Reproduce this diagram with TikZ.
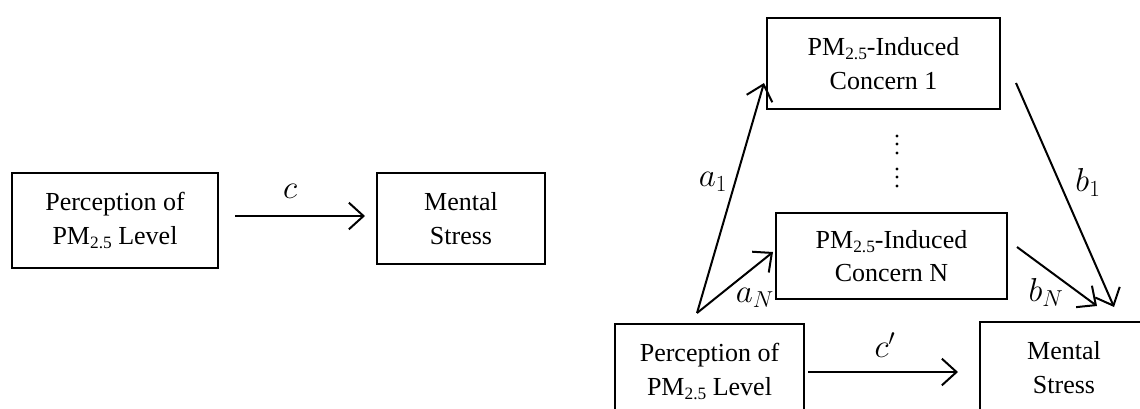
\documentclass[tikz,border=0pt]{standalone}
\usepackage{fontspec}
\setmainfont{Liberation Serif}
\usetikzlibrary{arrows.meta}
\newcommand{\pmsub}[1]{\raisebox{-0.35ex}{\fontsize{13}{13}\selectfont #1}}
\tikzset{
  box/.style={draw, line width=1.5pt, align=center, inner sep=0pt,
    font=\fontsize{19.5}{25}\selectfont},
  arr/.style={line width=1.5pt, -{Straight Barb[length=11pt,width=20pt]}},
  lbl/.style={font=\fontsize{23}{23}\selectfont, inner sep=0pt}
}
\begin{document}
\begin{tikzpicture}[x=0.75pt,y=-0.75pt]
\useasboundingbox (0,0) rectangle (1140,408);
\clip (0,0) rectangle (1140,408);
% left diagram
\node[box, minimum width=154.5pt, minimum height=71.25pt] (lp) at (115,220.5) {Perception of\\PM\pmsub{2.5} Level};
\node[box, minimum width=126pt, minimum height=68.25pt] (ls) at (461,218.5) {Mental\\Stress};
\coordinate (cA) at (235,216);
\coordinate (cB) at (365,216);
\draw[arr] (cA) -- (cB);
\node[lbl] (lc) at (290,191) {$c$};
% right diagram
\node[box, minimum width=174.75pt, minimum height=68.25pt] (c1) at (883.5,63.5) {PM\pmsub{2.5}-Induced\\Concern 1};
\node[box, minimum width=173.25pt, minimum height=64.5pt] (cN) at (891.5,256) {PM\pmsub{2.5}-Induced\\Concern N};
\node[box, minimum width=141.75pt, minimum height=71.25pt] (rp) at (709.5,371.5) {Perception of\\PM\pmsub{2.5} Level};
\node[box, minimum width=126pt, minimum height=68.25pt] (rs) at (1064,367.5) {Mental\\Stress};
% dots
\foreach \yy in {136,144,153,169,177,186} \fill (897,\yy) circle (1.7);
% arrows
\coordinate (aS) at (697,313);
\coordinate (a1E) at (764,83);
\coordinate (aNE) at (773,252);
\coordinate (b1S) at (1016,83);
\coordinate (b1E) at (1114,307);
\coordinate (bNS) at (1017,247);
\coordinate (bNE) at (1097,306);
\coordinate (cpA) at (808,372);
\coordinate (cpB) at (958,372);
\draw[arr] (aS) -- (a1E);
\draw[arr] (aS) -- (aNE);
\draw[arr] (b1S) -- (b1E);
\draw[arr] (bNS) -- (bNE);
\draw[arr] (cpA) -- (cpB);
\node[lbl] (la1) at (713,182) {$a_1$};
\node[lbl] (laN) at (755,298) {$a_N$};
\node[lbl] (lb1) at (1088,182) {$b_1$};
\node[lbl] (lbN) at (1046,292) {$b_N$};
\node[lbl] (lcp) at (885,345) {$c'$};
\end{tikzpicture}
\end{document}
